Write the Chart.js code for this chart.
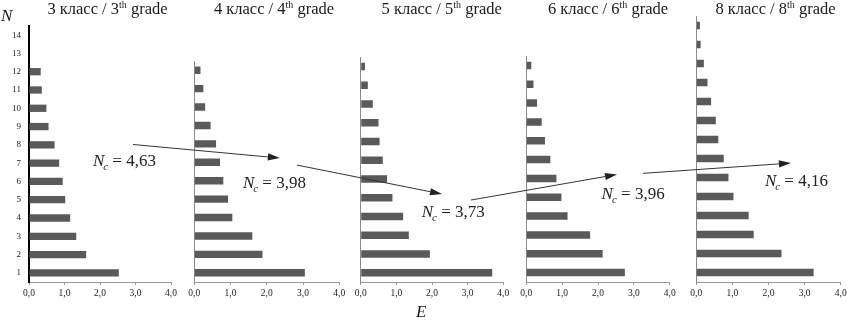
<!DOCTYPE html>
<html>
<head>
<meta charset="utf-8">
<script src="https://cdn.jsdelivr.net/npm/chart.js@4.4.1/dist/chart.umd.min.js"></script>
<style>
html, body { margin: 0; padding: 0; background: #fff; }
#wrap { position: relative; width: 847px; height: 320px; overflow: hidden;
        font-family: 'Liberation Serif', 'Times New Roman', serif; color: #1a1a1a; }
.panel { position: absolute; top: 0; height: 320px; }
.title { position: absolute; top: -1px; font-size: 16.5px; white-space: nowrap; transform: translateX(-50%); }
.title sup { font-size: 10px; vertical-align: 6px; line-height: 0; }
.axt { position: absolute; font-style: italic; font-size: 17px; line-height: 1; }
#overlay { position: absolute; left: 0; top: 0; pointer-events: none; }
</style>
</head>
<body>
<div id="wrap">
  <canvas id="overlay" width="847" height="320"></canvas>
</div>
<script>
// N values on the vertical axis
var nLabels14 = ['1','2','3','4','5','6','7','8','9','10','11','12','13','14'];
var nLabels12 = ['1','2','3','4','5','6','7','8','9','10','11','12'];

// E per grade
var grade3 = [2.53, 1.61, 1.33, 1.16, 1.02, 0.95, 0.85, 0.72, 0.55, 0.49, 0.36, 0.33];
var grade4 = [3.05, 1.88, 1.60, 1.05, 0.93, 0.80, 0.71, 0.60, 0.45, 0.30, 0.25, 0.17];
var grade5 = [3.69, 1.94, 1.35, 1.19, 0.89, 0.74, 0.62, 0.53, 0.50, 0.34, 0.20, 0.12];
var grade6 = [2.75, 2.13, 1.78, 1.15, 0.98, 0.84, 0.67, 0.52, 0.43, 0.30, 0.20, 0.14];
var grade8 = [3.25, 2.36, 1.59, 1.45, 1.03, 0.89, 0.76, 0.61, 0.54, 0.41, 0.31, 0.21, 0.12, 0.10];

var gradeNums = [3, 4, 5, 6, 8];
var ncValues = ['4,63', '3,98', '3,73', '3,96', '4,16'];
var xTickValues = [0, 1, 2, 3, 4];

var panelData = [grade3, grade4, grade5, grade6, grade8];
var panelLabels = [nLabels14, nLabels12, nLabels12, nLabels12, nLabels14];

// plot areas of the five panels (left, right, top), bottom is shared
var areas = [[29, 171, 26], [194.3, 339.3, 61], [360.7, 503.3, 57], [526.3, 669.7, 56], [696.3, 840.7, 16]];
var areaBottom = 282;
var titleCenters = [107.5, 274, 441.7, 608, 775.5];

// annotation anchors in (panel, E, N) of the panel they sit in
var arrowFrom = [[0, 2.93, 8.02], [1, 2.83, 6.85], [2, 3.09, 4.87], [3, 3.26, 6.27]];
var arrowTo   = [[1, 2.36, 7.23], [2, 2.28, 5.19], [3, 2.53, 6.21], [4, 2.62, 6.76]];
var ncAnchor  = [[0, 1.80, 6.87], [1, 1.34, 5.59], [2, 1.71, 3.98], [3, 2.10, 4.91], [4, 1.90, 5.55]];

var serif = "'Liberation Serif', 'Times New Roman', serif";
var wrap = document.getElementById('wrap');
var charts = [];
var offsets = [];

function fmt(v) { return v.toFixed(1).replace('.', ','); }

areas.forEach(function(a, i) {
    var divLeft = Math.floor(a[0] - 30);
    var divRight = Math.ceil(a[1] + 12);
    var div = document.createElement('div');
    div.className = 'panel';
    div.style.left = divLeft + 'px';
    div.style.width = (divRight - divLeft) + 'px';
    var cv = document.createElement('canvas');
    cv.width = divRight - divLeft;
    cv.height = 320;
    div.appendChild(cv);
    wrap.insertBefore(div, document.getElementById('overlay'));
    offsets.push(divLeft);

    var yw = a[0] - divLeft;
    var rp = divRight - a[1];

    var t = document.createElement('div');
    t.className = 'title';
    t.style.left = titleCenters[i] + 'px';
    t.innerHTML = gradeNums[i] + ' класс / ' + gradeNums[i] + '<sup>th</sup> grade';
    wrap.appendChild(t);

    charts.push(new Chart(cv, {
        type: 'bar',
        data: {
            labels: panelLabels[i],
            datasets: [{
                data: panelData[i],
                backgroundColor: '#5a5a5a',
                borderWidth: 0,
                barPercentage: 0.4,
                categoryPercentage: 1
            }]
        },
        options: {
            indexAxis: 'y',
            animation: false,
            responsive: false,
            maintainAspectRatio: false,
            layout: { padding: { top: a[2], right: rp, left: 0, bottom: 0 } },
            plugins: { legend: { display: false }, tooltip: { enabled: false } },
            scales: {
                x: {
                    type: 'linear',
                    min: 0,
                    max: 4,
                    afterBuildTicks: function(s) { s.ticks = xTickValues.map(function(v) { return { value: v }; }); },
                    ticks: {
                        callback: function(v) { return fmt(v); },
                        font: { family: serif, size: 9.5 },
                        color: '#222',
                        padding: 3,
                        maxRotation: 0,
                        autoSkip: false
                    },
                    grid: { drawOnChartArea: false, drawTicks: true, tickLength: 3, color: '#999' },
                    border: { color: '#999', width: 1 },
                    afterFit: function(s) { s.height = 320 - areaBottom; }
                },
                y: {
                    type: 'category',
                    reverse: true,
                    ticks: {
                        display: i === 0,
                        font: { family: serif, size: 9 },
                        color: '#222',
                        padding: 8
                    },
                    grid: { display: false, drawTicks: false },
                    border: { color: i === 0 ? '#000' : '#8a8a8a', width: i === 0 ? 2 : 1 },
                    afterFit: function(s) { s.width = yw; }
                }
            }
        }
    }));
});

function anchor(p) {
    var c = charts[p[0]];
    return [offsets[p[0]] + c.scales.x.getPixelForValue(p[1]), c.scales.y.getPixelForValue(p[2] - 1)];
}

var ctx = document.getElementById('overlay').getContext('2d');
ctx.strokeStyle = '#333';
ctx.fillStyle = '#222';
ctx.lineWidth = 1;
arrowFrom.forEach(function(f, i) {
    var s = anchor(f), e = anchor(arrowTo[i]);
    var ang = Math.atan2(e[1] - s[1], e[0] - s[0]);
    var hl = 12, hw = 3.6;
    var bx = e[0] - hl * Math.cos(ang), by = e[1] - hl * Math.sin(ang);
    ctx.beginPath();
    ctx.moveTo(s[0], s[1]);
    ctx.lineTo(bx, by);
    ctx.stroke();
    ctx.beginPath();
    ctx.moveTo(e[0], e[1]);
    ctx.lineTo(bx + hw * Math.sin(ang), by - hw * Math.cos(ang));
    ctx.lineTo(bx - hw * Math.sin(ang), by + hw * Math.cos(ang));
    ctx.closePath();
    ctx.fill();
});

ctx.textBaseline = 'alphabetic';
ncAnchor.forEach(function(p, i) {
    var pt = anchor(p);
    var x = pt[0], y = pt[1];
    ctx.font = 'italic 17px ' + serif;
    ctx.fillText('N', x, y);
    var w = ctx.measureText('N').width;
    ctx.font = 'italic 11px ' + serif;
    ctx.fillText('c', x + w - 1, y + 4);
    var cw = ctx.measureText('c').width;
    ctx.font = '17px ' + serif;
    ctx.fillText(' = ' + ncValues[i], x + w + cw - 1, y);
});

var nT = document.createElement('div');
nT.className = 'axt';
nT.style.left = '1px';
nT.style.top = '7px';
nT.textContent = 'N';
wrap.appendChild(nT);
var eT = document.createElement('div');
eT.className = 'axt';
eT.style.left = '416px';
eT.style.top = '303px';
eT.textContent = 'E';
wrap.appendChild(eT);
</script>
</body>
</html>
